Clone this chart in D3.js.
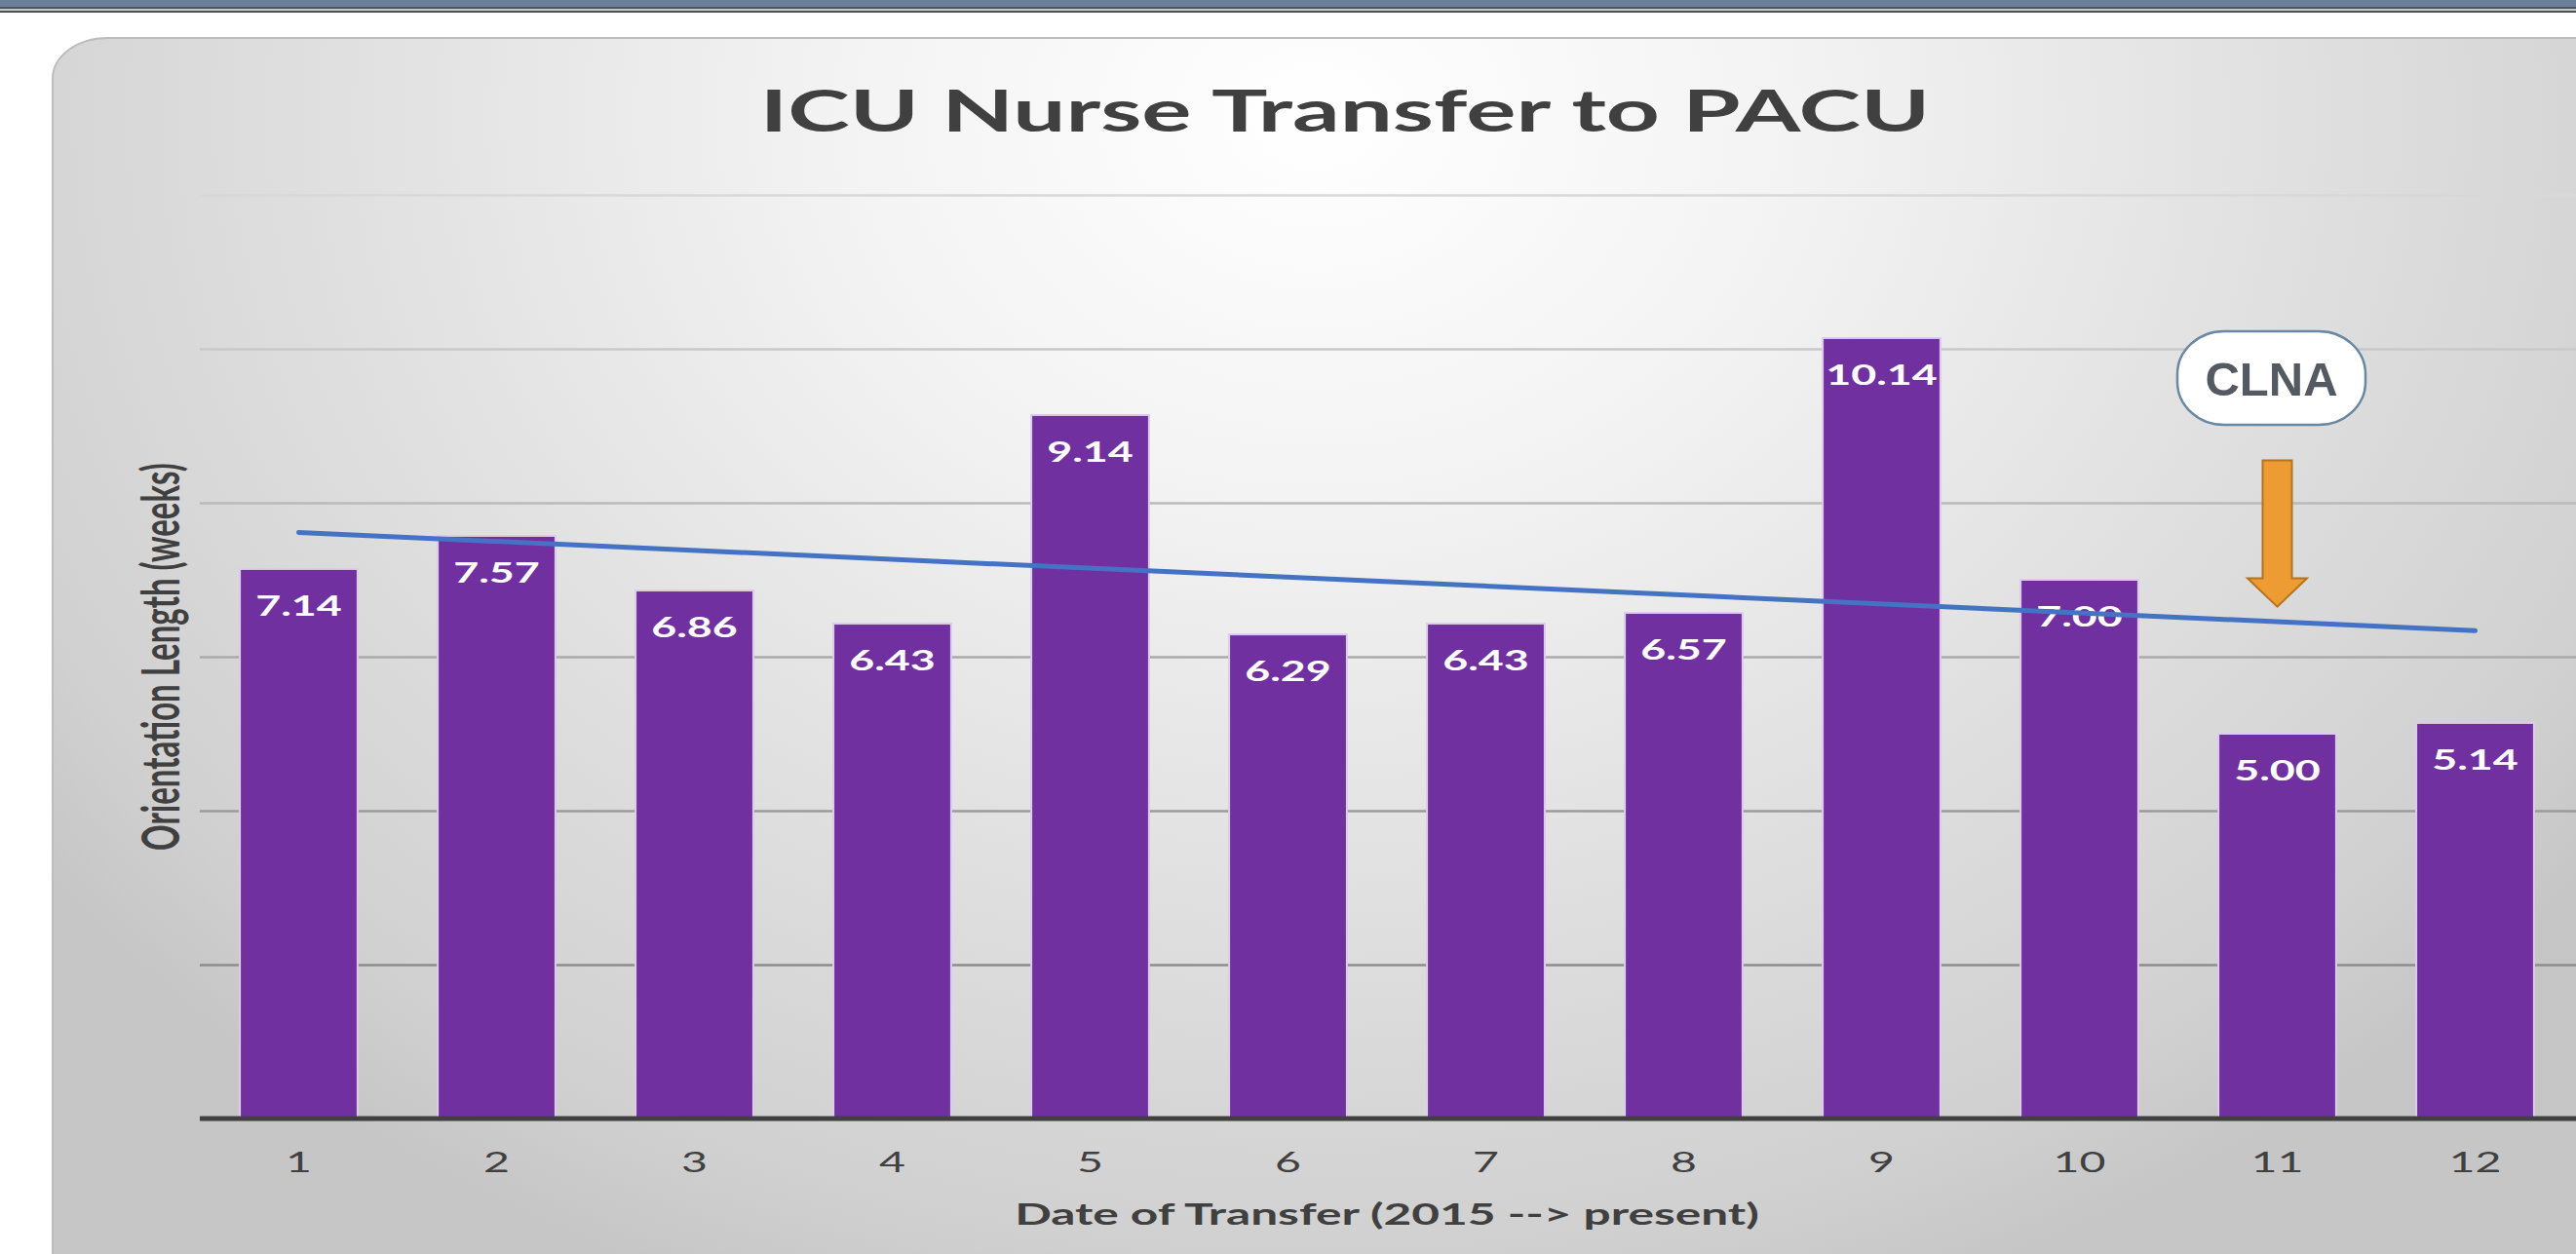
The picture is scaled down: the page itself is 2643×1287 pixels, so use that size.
<!DOCTYPE html>
<html>
<head>
<meta charset="utf-8">
<script src="https://cdn.jsdelivr.net/npm/d3@7"></script>
<style>
  body { margin: 0; background: #fff; }
  svg { display: block; }
  text { font-family: Lato, 'Open Sans', sans-serif; }
</style>
</head>
<body>
<svg width="2643" height="1287"></svg>
<script>
// chart data
var categories = ['1', '2', '3', '4', '5', '6', '7', '8', '9', '10', '11', '12'];
var orientationWeeks = [7.14, 7.57, 6.86, 6.43, 9.14, 6.29, 6.43, 6.57, 10.14, 7.00, 5.00, 5.14];
var gridValues = [2, 4, 6, 8, 10, 12];
var titleText = 'ICU Nurse Transfer to PACU';
var xTitle = 'Date of Transfer (2015 --> present)';
var yTitle = 'Orientation Length (weeks)';
// callout over transfer 11 (y values in weeks)
var calloutCategory = '11';
var calloutLabel = 'CLNA';
var calloutY = [9.62, 8.55, 7.02, 6.65]; // box centre, arrow top, head start, tip

var svg = d3.select('svg');
var svgWidth = +svg.attr('width');
var svgHeight = +svg.attr('height');

// the source picture is stretched sideways, text gets the same stretch
var SX = 1.6;
var plot = {l: 205, r: 2641, t: 200, b: 1148};

var defs = svg.append('defs');
var grad = defs.append('radialGradient')
    .attr('id', 'panelFill')
    .attr('gradientUnits', 'userSpaceOnUse')
    .attr('cx', 1350).attr('cy', 120).attr('r', 1300)
    .attr('gradientTransform', 'translate(1350,120) scale(1.25,1) translate(-1350,-120)');
[[0, '#ffffff'], [0.3, '#f3f3f3'], [0.6, '#e1e1e1'], [0.9, '#d0d0d0'], [1, '#c6c6c6']].forEach(function(s) {
  grad.append('stop').attr('offset', s[0]).attr('stop-color', s[1]);
});

// slide strip at the top
svg.append('rect').attr('width', svgWidth).attr('height', 7).attr('fill', '#6a8099');
svg.append('rect').attr('y', 7).attr('width', svgWidth).attr('height', 2).attr('fill', '#4d5660');
svg.append('rect').attr('y', 9).attr('width', svgWidth).attr('height', 2).attr('fill', '#c4c4c4');
svg.append('rect').attr('y', 11).attr('width', svgWidth).attr('height', 2).attr('fill', '#505050');

// chart panel
svg.append('rect')
    .attr('x', 54).attr('y', 39)
    .attr('width', 2800).attr('height', 1400)
    .attr('rx', 56).attr('ry', 42)
    .attr('fill', 'url(#panelFill)')
    .attr('stroke', '#bdbdbd')
    .attr('stroke-width', 2);

var xScale = d3.scaleBand()
    .domain(categories)
    .range([plot.l, plot.r])
    .paddingInner(0.405)
    .paddingOuter(0.2025);

var yScale = d3.scaleLinear()
    .domain([0, 12])
    .range([plot.b, plot.t]);

var gridColor = d3.scaleLinear()
    .domain([2, 12])
    .range(['#8c8c8c', '#d8d8d8']);

// gridlines
var gridG = svg.append('g')
    .attr('transform', 'translate(' + plot.l + ',0)')
    .call(d3.axisLeft(yScale).tickValues(gridValues).tickSize(-(svgWidth - plot.l)).tickFormat(''));
gridG.select('.domain').remove();
gridG.selectAll('.tick line')
    .attr('stroke', function(d) { return gridColor(d); })
    .attr('stroke-width', 2.5);

// bars
var data = categories.map(function(c, i) { return {cat: c, value: orientationWeeks[i]}; });

svg.append('g').selectAll('rect')
    .data(data)
    .enter()
    .append('rect')
    .attr('x', function(d) { return xScale(d.cat); })
    .attr('y', function(d) { return yScale(d.value); })
    .attr('width', xScale.bandwidth())
    .attr('height', function(d) { return yScale(0) - yScale(d.value); })
    .attr('fill', '#7030a0')
    .attr('stroke', '#dccbeb')
    .attr('stroke-width', 2);

// value labels inside bar tops
var fmt = d3.format('.2f');
svg.append('g').selectAll('text')
    .data(data)
    .enter()
    .append('text')
    .attr('transform', function(d) {
      var tx = xScale(d.cat) + xScale.bandwidth() / 2;
      var ty = yScale(d.value) + 48;
      return 'translate(' + [tx, ty] + ') scale(' + SX + ',1)';
    })
    .attr('text-anchor', 'middle')
    .style('font-size', '28px')
    .style('font-weight', 700)
    .style('fill', '#ffffff')
    .text(function(d) { return fmt(d.value); });

// linear trend line
var xs = d3.range(1, categories.length + 1);
var mx = d3.mean(xs), my = d3.mean(orientationWeeks);
var slope = d3.sum(xs, function(x, i) { return (x - mx) * (orientationWeeks[i] - my); }) /
    d3.sum(xs, function(x) { return (x - mx) * (x - mx); });
var trend = [0, categories.length - 1].map(function(i) {
  return {cat: categories[i], value: my + slope * (xs[i] - mx)};
});
svg.append('path')
    .datum(trend)
    .attr('d', d3.line()
      .x(function(d) { return xScale(d.cat) + xScale.bandwidth() / 2; })
      .y(function(d) { return yScale(d.value); }))
    .attr('fill', 'none')
    .attr('stroke', '#4472c4')
    .attr('stroke-width', 5)
    .attr('stroke-linecap', 'round');

// x axis
var xAxisG = svg.append('g')
    .attr('transform', 'translate(0,' + plot.b + ')')
    .call(d3.axisBottom(xScale).tickSize(0));
xAxisG.select('.domain').remove();
xAxisG.selectAll('.tick text')
    .attr('y', 55)
    .attr('dy', 0)
    .attr('transform', 'scale(' + SX + ',1)')
    .style('font-size', '29px')
    .style('font-family', 'Lato, sans-serif')
    .style('fill', '#404040');

svg.append('line')
    .attr('x1', plot.l).attr('x2', svgWidth)
    .attr('y1', plot.b).attr('y2', plot.b)
    .attr('stroke', '#404040')
    .attr('stroke-width', 5);

// titles
svg.append('text')
    .attr('transform', 'translate(1380,135) scale(' + SX + ',1)')
    .attr('text-anchor', 'middle')
    .style('font-size', '60px')
    .style('font-weight', 700)
    .style('fill', '#404040')
    .text(titleText);

svg.append('text')
    .attr('transform', 'translate(' + [(plot.l + plot.r) / 2, 1257] + ') scale(' + SX + ',1)')
    .attr('text-anchor', 'middle')
    .style('font-size', '31px')
    .style('font-weight', 700)
    .style('fill', '#404040')
    .text(xTitle);

svg.append('text')
    .attr('transform', 'translate(' + [184, (plot.t + plot.b) / 2] + ') scale(' + SX + ',1) rotate(-90)')
    .attr('text-anchor', 'middle')
    .style('font-size', '33px')
    .style('font-weight', 700)
    .style('fill', '#404040')
    .text(yTitle);

// CLNA callout and arrow
var cx = xScale(calloutCategory) + xScale.bandwidth() / 2;
var boxW = 193, boxH = 96;
svg.append('rect')
    .attr('x', cx - 6 - boxW / 2)
    .attr('y', yScale(calloutY[0]) - boxH / 2)
    .attr('width', boxW).attr('height', boxH)
    .attr('rx', 48).attr('ry', 44)
    .attr('fill', '#ffffff')
    .attr('stroke', '#6a87a3')
    .attr('stroke-width', 2.5);
svg.append('text')
    .attr('x', cx - 6)
    .attr('y', yScale(calloutY[0]) + 18)
    .attr('text-anchor', 'middle')
    .style('font-family', '"Liberation Sans", Arial, sans-serif')
    .style('font-size', '49px')
    .style('font-weight', 700)
    .style('fill', '#545a61')
    .text(calloutLabel);

var shaft = 15, head = 30.5;
var arrowPts = [
  [cx - shaft, yScale(calloutY[1])], [cx + shaft, yScale(calloutY[1])],
  [cx + shaft, yScale(calloutY[2])], [cx + head, yScale(calloutY[2])],
  [cx, yScale(calloutY[3])],
  [cx - head, yScale(calloutY[2])], [cx - shaft, yScale(calloutY[2])]
];
svg.append('path')
    .attr('d', d3.line()(arrowPts) + 'Z')
    .attr('fill', '#ed9c33')
    .attr('stroke', '#b5721f')
    .attr('stroke-width', 2);
</script>
</body>
</html>
